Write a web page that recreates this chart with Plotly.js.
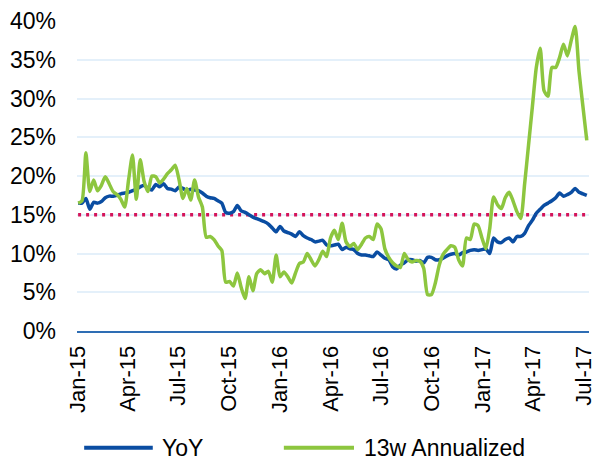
<!DOCTYPE html>
<html>
<head>
<meta charset="utf-8">
<script src="https://cdn.plot.ly/plotly-3.0.1.min.js"></script>
<style>
  html, body { margin: 0; padding: 0; background: #ffffff; }
  #chart { width: 595px; height: 466px; }
</style>
</head>
<body>
<div id="chart"></div>
<script>
// Weekly observation dates (Fridays)
const weeks = [
  "2015-01-02","2015-01-09","2015-01-16","2015-01-23","2015-01-30",
  "2015-02-06","2015-02-13","2015-02-20","2015-02-27",
  "2015-03-06","2015-03-13","2015-03-20","2015-03-27",
  "2015-04-03","2015-04-10","2015-04-17","2015-04-24",
  "2015-05-01","2015-05-08","2015-05-15","2015-05-22","2015-05-29",
  "2015-06-05","2015-06-12","2015-06-19","2015-06-26",
  "2015-07-03","2015-07-10","2015-07-17","2015-07-24","2015-07-31",
  "2015-08-07","2015-08-14","2015-08-21","2015-08-28",
  "2015-09-04","2015-09-11","2015-09-18","2015-09-25",
  "2015-10-02","2015-10-09","2015-10-16","2015-10-23","2015-10-30",
  "2015-11-06","2015-11-13","2015-11-20","2015-11-27",
  "2015-12-04","2015-12-11","2015-12-18","2015-12-25",
  "2016-01-01","2016-01-08","2016-01-15","2016-01-22","2016-01-29",
  "2016-02-05","2016-02-12","2016-02-19","2016-02-26",
  "2016-03-04","2016-03-11","2016-03-18","2016-03-25",
  "2016-04-01","2016-04-08","2016-04-15","2016-04-22","2016-04-29",
  "2016-05-06","2016-05-13","2016-05-20","2016-05-27",
  "2016-06-03","2016-06-10","2016-06-17","2016-06-24",
  "2016-07-01","2016-07-08","2016-07-15","2016-07-22","2016-07-29",
  "2016-08-05","2016-08-12","2016-08-19","2016-08-26",
  "2016-09-02","2016-09-09","2016-09-16","2016-09-23","2016-09-30",
  "2016-10-07","2016-10-14","2016-10-21","2016-10-28",
  "2016-11-04","2016-11-11","2016-11-18","2016-11-25",
  "2016-12-02","2016-12-09","2016-12-16","2016-12-23","2016-12-30",
  "2017-01-06","2017-01-13","2017-01-20","2017-01-27",
  "2017-02-03","2017-02-10","2017-02-17","2017-02-24",
  "2017-03-03","2017-03-10","2017-03-17","2017-03-24","2017-03-31",
  "2017-04-07","2017-04-14","2017-04-21","2017-04-28",
  "2017-05-05","2017-05-12","2017-05-19","2017-05-26",
  "2017-06-02","2017-06-09","2017-06-16","2017-06-23","2017-06-30",
  "2017-07-07"
];

// YoY growth, %
const yoy = [
  16.5,16.5,17.1,15.7,16.6,16.5,16.7,17.2,17.4,17.4,
  17.5,17.7,17.8,17.9,18.1,18.3,18.6,18.8,18.4,18.2,
  18.9,18.6,19.0,18.4,18.3,18.1,18.6,18.4,18.1,18.3,
  18.2,18.1,17.8,17.4,17.2,17.1,16.8,16.5,15.3,15.2,
  15.4,16.2,15.5,15.3,15.0,14.7,14.5,14.3,14.1,13.8,
  13.3,12.8,13.5,12.9,12.7,12.5,12.2,12.8,12.3,12.0,
  11.8,11.5,11.6,11.7,11.1,11.0,11.1,11.2,10.5,10.8,
  10.6,10.5,10.0,9.8,9.8,9.7,9.6,10.2,9.8,9.4,
  9.2,8.3,8.0,8.5,8.8,9.2,9.2,9.0,9.1,8.8,
  9.5,9.5,9.2,9.2,9.4,9.7,9.9,10.0,9.8,10.1,
  10.2,10.4,10.5,10.4,10.5,10.6,10.0,12.0,11.5,11.4,
  11.8,12.0,11.5,12.2,12.2,12.6,13.6,14.3,15.2,15.7,
  16.2,16.5,16.8,17.2,17.8,17.4,17.6,17.9,18.4,17.9,
  17.7,17.5
];

// 13-week annualized growth, %
const annualized13w = [
  16.5,16.8,23.0,18.0,19.5,18.1,18.8,19.9,19.0,18.0,
  17.6,17.0,16.0,19.5,22.7,17.0,22.1,19.3,18.0,20.0,
  19.9,19.1,19.6,20.3,20.8,21.4,19.5,17.1,18.4,16.9,
  19.5,17.3,16.0,12.1,12.2,11.8,11.0,10.4,6.3,6.4,
  5.8,7.5,5.6,4.2,7.0,5.2,7.4,7.9,7.4,7.7,
  6.3,9.8,7.0,7.6,7.0,6.2,7.5,8.7,8.9,10.0,
  9.2,8.4,9.2,10.3,9.6,12.0,13.0,11.8,13.9,11.5,
  10.9,11.3,10.5,11.2,12.0,12.2,11.8,13.8,13.2,10.6,
  9.5,8.8,8.4,8.2,10.0,9.2,8.9,9.1,9.0,8.1,
  4.7,4.7,6.2,8.5,9.9,10.5,11.0,10.8,9.2,8.4,
  12.0,11.8,13.8,13.6,12.0,10.6,13.2,17.3,16.3,15.8,
  17.2,17.9,16.8,15.4,14.5,19.0,24.0,29.0,34.0,36.5,
  31.0,30.3,34.0,34.0,35.3,37.0,35.5,37.5,39.3,33.5,
  29.0,24.6
];

// Reference level, %
const referenceLevel = 15;
const referenceLine = weeks.map(() => referenceLevel);

const seriesNames = ['YoY', '13w Annualized'];
const seriesColors = ['#0A4DA2', '#8DC63F'];

const FONT = '"Liberation Sans", Arial, sans-serif';
const FS = 23;

const traces = [
  {
    x: weeks, y: referenceLine, type: 'scatter', mode: 'lines',
    name: '15%', showlegend: false, hoverinfo: 'skip',
    line: { color: '#D4145A', width: 3.5, dash: '3px,5px' }
  },
  {
    x: weeks, y: yoy, type: 'scatter', mode: 'lines', name: seriesNames[0],
    showlegend: false,
    line: { color: seriesColors[0], width: 3.5, shape: 'spline', smoothing: 0.6 }
  },
  {
    x: weeks, y: annualized13w, type: 'scatter', mode: 'lines', name: seriesNames[1],
    showlegend: false,
    line: { color: seriesColors[1], width: 3.5, shape: 'spline', smoothing: 0.6 }
  }
];

// Custom legend (long line keys like the original), in paper coordinates
const legendY = -0.377;
const legendItems = [
  { x0: 0.014, x1: 0.148, tx: 0.162 },
  { x0: 0.404, x1: 0.541, tx: 0.556 }
];
const shapes = legendItems.map((it, i) => ({
  type: 'line', xref: 'paper', yref: 'paper',
  x0: it.x0, x1: it.x1, y0: legendY, y1: legendY,
  line: { color: seriesColors[i], width: 4 }
}));
const annotations = legendItems.map((it, i) => ({
  xref: 'paper', yref: 'paper', x: it.tx, y: legendY,
  xanchor: 'left', yanchor: 'middle', showarrow: false,
  text: seriesNames[i],
  font: { family: FONT, size: FS, color: '#000000' }
}));

const layout = {
  width: 595, height: 466,
  margin: { l: 77, r: 6, t: 21, b: 135 },
  paper_bgcolor: '#ffffff', plot_bgcolor: '#ffffff',
  font: { family: FONT, size: FS, color: '#000000' },
  showlegend: false,
  shapes: shapes,
  annotations: annotations,
  xaxis: {
    type: 'date',
    range: ['2014-12-31', '2017-07-11'],
    tick0: '2015-01-01', dtick: 'M3', tickformat: '%b-%y',
    tickangle: -90,
    showgrid: false, zeroline: false,
    showline: true, linecolor: '#2E6DB4', linewidth: 2,
    ticks: '', ticklabelstandoff: 4, ticklabeloverflow: 'allow',
    tickfont: { family: FONT, size: 22, color: '#000000' }
  },
  yaxis: {
    range: [0, 40], dtick: 5, ticksuffix: '%',
    showgrid: true, gridcolor: '#E4F0FA', gridwidth: 2,
    zeroline: false, showline: false, ticks: '',
    ticklabelstandoff: 20,
    tickfont: { family: FONT, size: FS, color: '#000000' }
  }
};

Plotly.newPlot('chart', traces, layout, { displayModeBar: false, staticPlot: true });
</script>
</body>
</html>
